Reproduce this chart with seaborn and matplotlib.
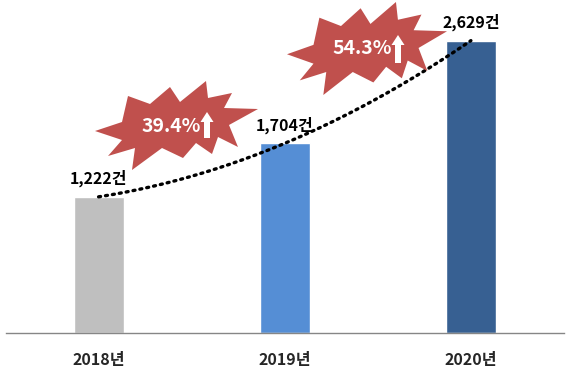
import matplotlib
matplotlib.use('Agg')
import matplotlib.pyplot as plt
import matplotlib.transforms as mtransforms
from matplotlib.patches import Polygon
import numpy as np
import seaborn as sns

years = ['2018년', '2019년', '2020년']
counts = [1222, 1704, 2629]
growth = ['39.4%', '54.3%']
bar_colors = ['#BFBFBF', '#558ED5', '#376092']

sns.set_style('white')
plt.rcParams['font.family'] = ['Noto Sans CJK KR', 'DejaVu Sans']

fig = plt.figure(figsize=(5.74, 3.71), dpi=100)
ax = fig.add_axes([5.5 / 574, (371 - 332.5) / 371, (564 - 5.5) / 574, 332.5 / 371])

sns.barplot(x=years, y=counts, hue=years, palette=bar_colors, width=0.268,
            saturation=1, legend=False, ax=ax, zorder=2)
ax.set_xlim(-0.5, 2.5)
ax.set_ylim(0, 2995)

# dotted trend line (2nd order polynomial like excel)
coef = np.polyfit(range(len(counts)), counts, 2)
xs = np.linspace(0, len(counts) - 1, 200)
ax.plot(xs, np.polyval(coef, xs), linestyle=(0, (0.6, 1.5)), color='black',
        lw=2.4, dash_capstyle='round', zorder=3)

for i, v in enumerate(counts):
    ax.annotate(f'{v:,}건', (i, v), xytext=(0, 7), textcoords='offset points',
                ha='center', va='bottom', fontsize=11.5, fontweight='bold',
                color='black', zorder=4)

# axis styling
for s in ['top', 'right', 'left']:
    ax.spines[s].set_visible(False)
ax.spines['bottom'].set_color('#868686')
ax.spines['bottom'].set_linewidth(1)
ax.set_yticks([])
ax.set_xticks(range(3))
ax.set_xticklabels(years, fontsize=11.5, fontweight='bold')
ax.tick_params(axis='x', which='major', length=0, pad=14)
ax.set_xticks([-0.5, 0.5, 1.5, 2.5], minor=True)
ax.tick_params(axis='x', which='minor', length=4, width=1, color='#868686',
               direction='out')
ax.set_xlabel('')
ax.set_ylabel('')

# pixel transform (origin top-left) for the starburst callouts
px = mtransforms.Affine2D().scale(1 / 574, -1 / 371).translate(0, 1) + fig.transFigure

burst = np.array([
    (206, 81), (208, 98), (232, 93), (224, 108), (258, 109), (229, 125),
    (238, 147), (218, 137), (212, 154), (196, 143), (183, 158), (162, 148),
    (132, 170), (135, 148), (108, 156), (122, 140), (95, 131), (122, 122),
    (128, 96), (150, 104), (170, 87), (180, 102)], dtype=float)
burst[:, 0] = (burst[:, 0] - 95) / 163
burst[:, 1] = (burst[:, 1] - 81) / 89


def draw_burst(x0, y0, w, h, label, tx, ty, ax_x, ax_top, ax_bot):
    pts = np.column_stack([x0 + burst[:, 0] * w, y0 + burst[:, 1] * h])
    fig.patches.append(Polygon(pts, closed=True, facecolor='#C0504D',
                               edgecolor='none', transform=px, zorder=5))
    fig.text(tx, ty, label, transform=px, ha='center', va='center',
             color='white', fontsize=14, fontweight='bold', zorder=6)
    hw, sw, hl = 6.5, 3, 10
    arrow = [(ax_x - sw, ax_bot), (ax_x - sw, ax_top + hl), (ax_x - hw, ax_top + hl),
             (ax_x, ax_top), (ax_x + hw, ax_top + hl), (ax_x + sw, ax_top + hl),
             (ax_x + sw, ax_bot)]
    fig.patches.append(Polygon(arrow, closed=True, facecolor='white',
                               edgecolor='none', transform=px, zorder=6))


draw_burst(95, 81, 163, 89, growth[0], 171, 126, 207, 112, 138)
draw_burst(287, 2, 160, 93, growth[1], 362, 48, 398, 35, 63)

fig.savefig('out.png', dpi=100)
